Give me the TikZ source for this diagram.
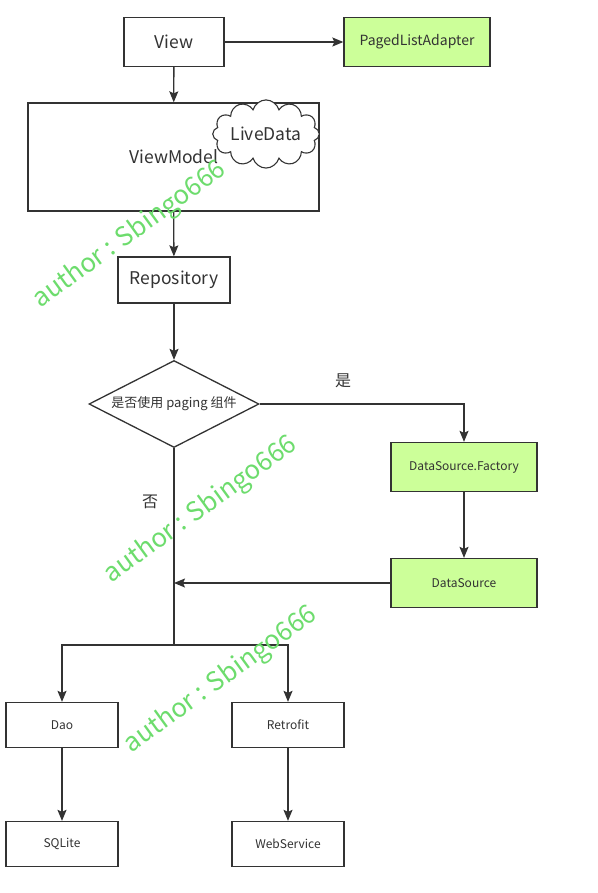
\documentclass[tikz,border=0pt]{standalone}
\usepackage{fontspec}
\setmainfont{Noto Sans CJK SC}
\usetikzlibrary{arrows.meta,shapes.geometric,shapes.symbols}
\definecolor{linegray}{HTML}{333333}
\definecolor{boxgreen}{HTML}{CCFF99}
\definecolor{markgreen}{HTML}{6DDC6D}
\begin{document}
\begin{tikzpicture}[x=1pt, y=-1pt, every node/.style={font=\fontsize{12}{14}\selectfont, text=linegray}]
        \tikzset{
            box/.style={draw=linegray,line width=1.3pt,fill=white,inner sep=0pt,minimum width=#1,minimum height=46pt},
            box/.default=112pt,
            greenbox/.style={box=146pt,fill=boxgreen,minimum height=49pt},
            big/.style={font=\fontsize{17.5}{20}\selectfont},
            link/.style={draw=linegray,line width=1.3pt,-{Stealth[length=11pt,width=9pt,inset=2pt]}},
            plain/.style={draw=linegray,line width=1.3pt},
            watermark/.style={font=\fontsize{26}{30}\selectfont,text=markgreen,rotate=36}
        }
        \useasboundingbox (0,0) rectangle (597,893);
        \node[box=100pt,minimum height=49pt,big] (view) at (174,42) {View};
        \node[greenbox,font=\fontsize{14}{16}\selectfont] (pla) at (417,42) {PagedListAdapter};
        \node[box=291pt,minimum height=108pt] (vm) at (173.5,157) {};
        \node[big] (vmtext) at (174,157) {ViewModel};
        \node[cloud,draw=linegray,line width=1.1pt,fill=white,cloud puffs=12,aspect=2,inner sep=0pt,minimum width=99pt,minimum height=56pt,big] (live) at (266,134) {LiveData};
        \node[box,big] (repo) at (174,280) {Repository};
        \node[diamond,draw=linegray,line width=1.3pt,fill=white,aspect=1.95,inner sep=0pt,minimum width=170pt,minimum height=87pt,font=\fontsize{13}{15}\selectfont] (dec) at (174,404) {是否使用 paging 组件};
        \node[font=\fontsize{16}{18}\selectfont] (yes) at (343,381) {是};
        \node[font=\fontsize{16}{18}\selectfont] (no) at (150,502) {否};
        \node[greenbox] (dsf) at (464,467) {DataSource.Factory};
        \node[greenbox] (ds) at (464,583) {DataSource};
        \node[box,minimum height=45pt] (dao) at (62,725) {Dao};
        \node[box,minimum height=45pt] (retro) at (288,725) {Retrofit};
        \node[box,minimum height=45pt] (sqlite) at (62,844) {SQLite};
        \node[box,minimum height=45pt] (ws) at (288,844) {WebService};
        \coordinate (join) at (174,583);
        \coordinate (split) at (174,645);
        \draw[link] (view) -- (pla);
        \draw[link] (view) -- (vm);
        \draw[link] (vm) -- (repo);
        \draw[link] (repo) -- (dec);
        \draw[link] (dec.east) -| (dsf);
        \draw[link] (dsf) -- (ds);
        \draw[link] (ds) -- (join);
        \draw[plain] (dec.south) -- (split);
        \draw[link] (split) -| (dao);
        \draw[link] (split) -| (retro);
        \draw[link] (dao) -- (sqlite);
        \draw[link] (retro) -- (ws);
        \node[watermark] (mark1) at (130,235) {author : Sbingo666};
        \node[watermark] (mark2) at (201,510) {author : Sbingo666};
        \node[watermark] (mark3) at (221,680) {author : Sbingo666};
    \end{tikzpicture}
\end{document}
